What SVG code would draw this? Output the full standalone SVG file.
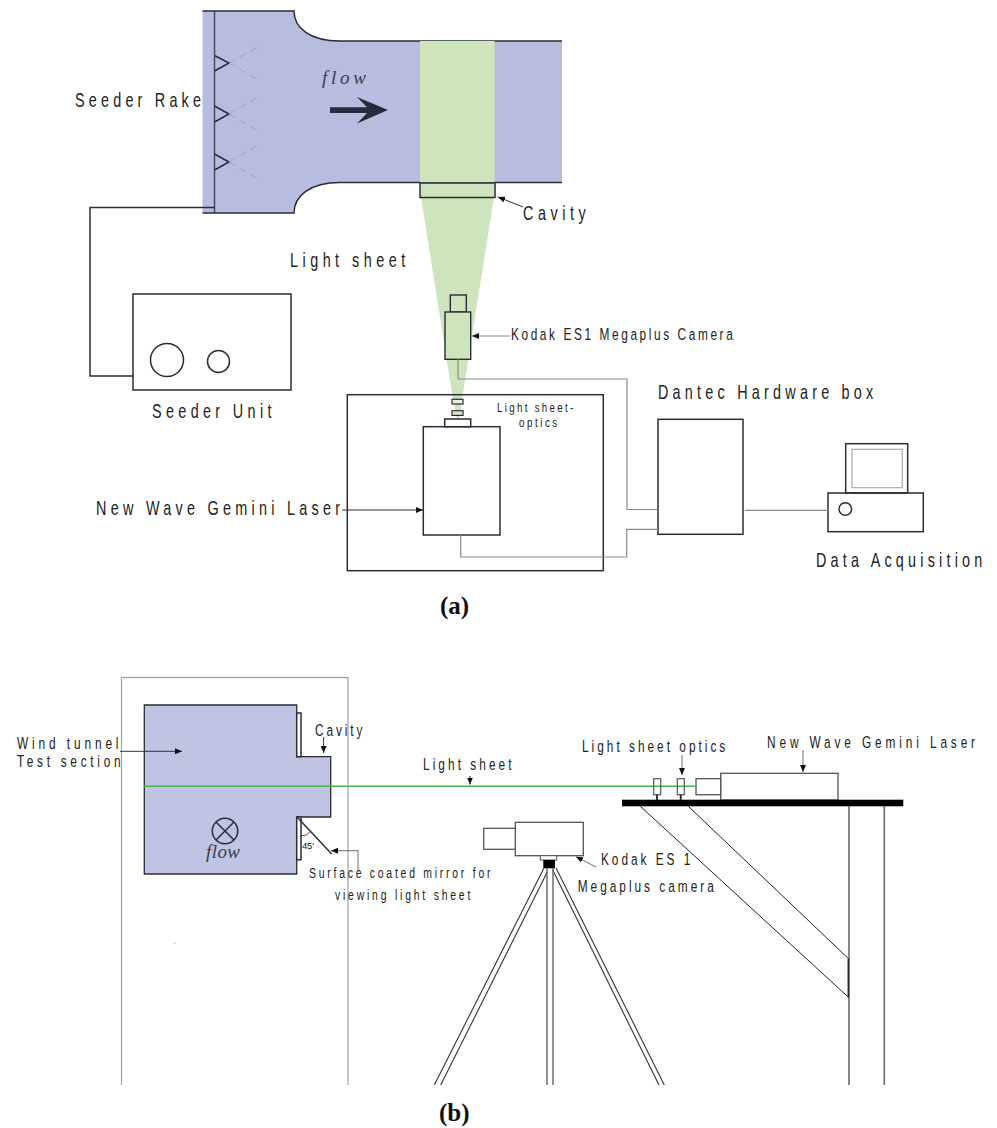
<svg xmlns="http://www.w3.org/2000/svg" width="997" height="1128" viewBox="0 0 997 1128">
<style>
.k{fill:none;stroke:#2a2d38;stroke-width:1.5}
.kw{fill:#fff;stroke:#2a2d38;stroke-width:1.5}
.g{fill:none;stroke:#8a8a8a;stroke-width:1.2}
.a{fill:none;stroke:#333;stroke-width:1;marker-end:url(#h)}
.ag{fill:none;stroke:#888;stroke-width:1.2;marker-end:url(#h)}
.d{fill:none;stroke:#9a9db8;stroke-width:.8;stroke-dasharray:8 4}
.t{font-family:"Liberation Sans",Arial,sans-serif;fill:#222}
.l{font-size:20px}.m{font-size:16.5px}.s{font-size:14.5px}.x{font-size:13.5px}
.f{font-family:"Liberation Serif","Times New Roman",serif;font-style:italic;font-size:19px;fill:#3a3d4a}
.c{font-family:"Liberation Serif","Times New Roman",serif;font-weight:bold;font-size:25px;fill:#111}
</style>
<defs>
<marker id="h" markerWidth="8" markerHeight="6" refX="7" refY="3" orient="auto" markerUnits="userSpaceOnUse"><path d="M0 0L7 3L0 6Z" fill="#111"/></marker>
</defs>
<rect width="997" height="1128" fill="#fff"/>

<g id="tunnel-a">
<path d="M202.500 11H294C294 28 310 41 340 41H562V182.500H340C310 182.500 294 196 294 213H202.500Z" fill="#b8bcdf"/>
<path class="k" d="M202.500 11H294C294 28 310 41 340 41H562M562 182.500H340C310 182.500 294 196 294 213H202.500"/>
<path d="M214.500 11V213" class="k" stroke-opacity=".8"/>
<path class="k" d="M214.500 55.500L229 63L214.500 71M214.500 106L229 114L214.500 122M214.500 154L229 162L214.500 170"/>
<path class="d" d="M229 63L260 46M229 63L260 81M229 114L260 96M229 114L260 132M229 162L260 144M229 162L260 180"/>
<path d="M330 107.300H367L357 97L388 110L357 123.500L367 113H330Z" fill="#272b3c"/>
<text class="f" transform="translate(322 84)" textLength="44">flow</text>
</g>
<g id="light-sheet-a">
<path d="M420 41H494.500V182.500H420ZM421 183H494.500V197H494L463 393L458 425L452 393L421 197H420Z" fill="#cde4bd"/>
</g>
<g id="cavity-a"><rect class="k" x="420" y="183" width="75" height="14.500"/></g>
<g id="seeder-unit">
<rect class="k" x="133" y="294" width="158" height="96"/>
<circle class="k" cx="167" cy="360" r="16.500"/><circle class="k" cx="218.500" cy="361.500" r="11"/>
</g>
<g id="camera-a">
<rect x="450.300" y="295" width="16" height="17" fill="#cde4bd" stroke="#2a2d38" stroke-width="1.400"/>
<rect x="445" y="312" width="25.700" height="47.300" fill="#cde4bd" stroke="#2a2d38" stroke-width="1.400"/>
</g>
<g id="laser-enclosure"><rect class="k" x="347.300" y="394.700" width="256" height="176"/></g>
<g id="laser-a">
<rect class="kw" x="423.300" y="426.700" width="76.700" height="108.300"/>
<rect class="kw" x="444.700" y="419" width="26" height="7.700"/>
<rect x="452" y="399.300" width="11" height="4.700" fill="#e6f1dc" stroke="#2a2d38" stroke-width="1.200"/>
<rect x="452" y="410.700" width="11" height="4.700" fill="#d6e8c8" stroke="#2a2d38" stroke-width="1.200"/>
</g>
<g id="dantec-box"><rect class="k" x="658" y="419.300" width="85" height="115"/></g>
<g id="computer">
<rect class="k" x="845.700" y="443.700" width="62" height="49.300"/>
<rect x="852" y="449.300" width="50.300" height="38.400" fill="none" stroke="#aaa" stroke-width="1.200"/>
<rect class="k" x="828" y="493" width="95.300" height="38.700"/>
<circle class="k" cx="845.300" cy="509" r="6.300"/>
</g>

<g id="section-b">
<path d="M121.500 1085V677.500H348V1085" fill="none" stroke="#a8a8a8" stroke-width="1.300"/>
<path d="M144.300 705H296.700V756.700H330.700V817H296.700V874H144.300Z" fill="#c0c3e2" stroke="#2a2d38" stroke-width="1.300"/>
<path class="kw" d="M296.700 713H301V756.700H296.700ZM296.700 817H301V859.700H296.700Z"/>
<circle class="k" cx="225" cy="831" r="12.700"/>
<path class="k" d="M216 822L234 840M234 822L216 840"/>
<text class="f" transform="translate(206 858)" textLength="34">flow</text>
<circle cx="175" cy="943" r=".6" fill="#777"/>
<path class="k" d="M297 817L331.700 854"/>
<path fill="none" stroke="#2a2d38" stroke-width=".9" d="M301 836Q307 836 311 831"/>
<text class="t" font-size="9.500" transform="translate(302 849)" textLength="12">45'</text>
</g>
<g id="laser-b">
<rect x="720.700" y="773.300" width="117.300" height="26.700" fill="#fff" stroke="#555" stroke-width="1.300"/>
<rect x="696" y="778.700" width="24.700" height="16" fill="#fff" stroke="#555" stroke-width="1.300"/>
</g>
<g id="table">
<rect x="622" y="799.700" width="281.300" height="6.600" fill="#000"/>
<path fill="none" stroke="#6a6a6a" stroke-width="1.600" d="M849 806V1085M884.300 806V1085"/>
<path fill="none" stroke="#222" stroke-width="1" d="M640 806L848.500 997.300V958.700L688 806"/>
<path stroke="#222" stroke-width="1.500" d="M848.300 997.300V958.700"/>
</g>
<g id="camera-b">
<rect x="515.300" y="822.300" width="68" height="33.400" fill="#fff" stroke="#555" stroke-width="1.300"/>
<rect x="483.700" y="828.300" width="31.600" height="21" fill="#fff" stroke="#555" stroke-width="1.300"/>
<rect x="540.300" y="855.700" width="16.400" height="4.300" fill="#fff" stroke="#555" stroke-width="1"/>
<rect x="543.300" y="860" width="11.700" height="8.300" fill="#000"/>
</g>
<g id="tripod" fill="none" stroke="#333" stroke-width="1.100">
<path d="M544 868L434.300 1085M547.300 872L440.700 1085M552.700 870L659 1085M556 868L664.300 1085"/>
<path stroke="#666" stroke-width="1.400" d="M547 868V1085M553 868V1085"/>
</g>

<g id="connectors">
<path class="k" d="M214.500 207.500H90V376H133"/>
<path class="g" d="M458 359.300V379H627V509.500H658"/>
<path class="g" d="M460.700 535V557H626.700V529.300H658"/>
<path class="g" d="M745 510.300H828"/>
<path class="ag" d="M510 336H472"/>
<path class="a" d="M342 510H423"/>
<path class="a" d="M523 207L498 197"/>
<path d="M144 786.300H696.700" fill="none" stroke="#45b649" stroke-width="1.500"/>
<path class="a" d="M120 751.300H182"/>
<path class="a" d="M323.600 737V753"/>
<path class="a" d="M470 776V784.500"/>
<path class="ag" d="M682 755V775"/>
<path class="ag" d="M803 750V772"/>
<path class="ag" d="M358 870V850.700H331"/>
<path class="ag" d="M596 867L576 856.700"/>
</g>
<g id="optics-b">
<rect x="653.700" y="778.700" width="7" height="16" fill="none" stroke="#555" stroke-width="1.200"/>
<rect x="677.300" y="778.700" width="7" height="16" fill="none" stroke="#555" stroke-width="1.200"/>
<path stroke="#222" stroke-width="1.800" d="M657 794.700V800M680.700 794.700V800"/>
</g>

<g id="labels">
<text class="t l" transform="translate(75 107) scale(.72 1)" textLength="175">Seeder Rake</text>
<text class="t l" transform="translate(523 220) scale(.72 1)" textLength="87">Cavity</text>
<text class="t l" transform="translate(290 267) scale(.72 1)" textLength="160">Light sheet</text>
<text class="t m" transform="translate(511 340) scale(.72 1)" textLength="308">Kodak ES1 Megaplus Camera</text>
<text class="t l" transform="translate(152 418) scale(.72 1)" textLength="166">Seeder Unit</text>
<text class="t l" transform="translate(96 515) scale(.72 1)" textLength="339">New Wave Gemini Laser</text>
<text class="t x" transform="translate(497 412) scale(.72 1)" textLength="106">Light sheet-</text>
<text class="t x" transform="translate(519 427) scale(.72 1)" textLength="53">optics</text>
<text class="t l" transform="translate(658 399) scale(.72 1)" textLength="299">Dantec Hardware box</text>
<text class="t l" transform="translate(816 567) scale(.72 1)" textLength="231">Data Acquisition</text>
<text class="c" x="440" y="614">(a)</text>
<text class="t m" transform="translate(17 749) scale(.72 1)" textLength="141">Wind tunnel</text>
<text class="t m" transform="translate(17 767) scale(.72 1)" textLength="144">Test section</text>
<text class="t m" transform="translate(315 735.700) scale(.72 1)" textLength="66">Cavity</text>
<text class="t m" transform="translate(423 770) scale(.72 1)" textLength="123">Light sheet</text>
<text class="t m" transform="translate(582 752) scale(.72 1)" textLength="199">Light sheet optics</text>
<text class="t m" transform="translate(767 748) scale(.72 1)" textLength="289">New Wave Gemini Laser</text>
<text class="t m" transform="translate(601 865.300) scale(.72 1)" textLength="124">Kodak ES 1</text>
<text class="t m" transform="translate(577.700 892.300) scale(.72 1)" textLength="189">Megaplus camera</text>
<text class="t s" transform="translate(309 878) scale(.72 1)" textLength="252">Surface coated mirror for</text>
<text class="t s" transform="translate(335 900) scale(.72 1)" textLength="188">viewing light sheet</text>
<text class="c" x="439" y="1121">(b)</text>
</g>
</svg>
